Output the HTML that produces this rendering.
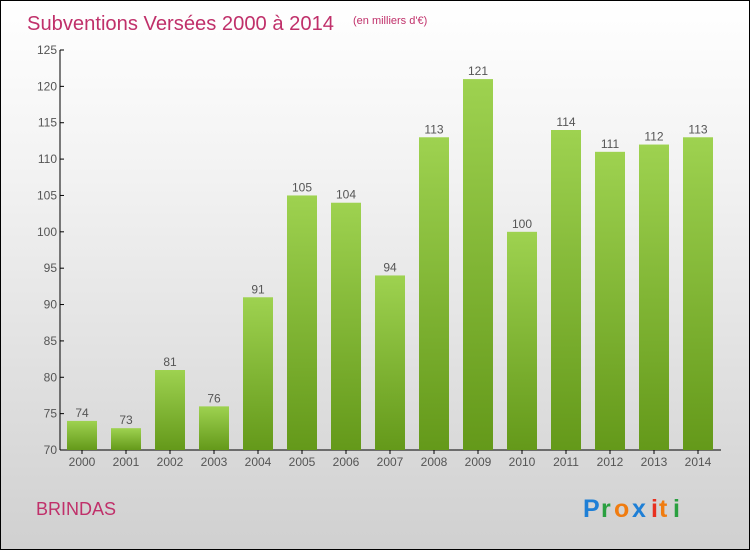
<!DOCTYPE html>
<html><head><meta charset="utf-8"><style>
body{margin:0}
#c{width:748px;height:548px;border:1px solid #000;background:linear-gradient(#ffffff,#f3f3f3 30%,#d0d0d0);position:relative;font-family:"Liberation Sans",sans-serif;overflow:hidden}
</style></head><body>
<div id="c">
<svg width="748" height="548" id="svg">
<defs><linearGradient id="bg" x1="0" y1="0" x2="0" y2="1"><stop offset="0" stop-color="#9ed250"/><stop offset="1" stop-color="#64991a"/></linearGradient></defs>
<text x="26" y="29" font-size="20" fill="#c0306a" textLength="307" lengthAdjust="spacingAndGlyphs">Subventions Versées 2000 à 2014</text>
<text x="352" y="23" font-size="11" fill="#c0306a">(en milliers d'€)</text>
<text x="35" y="514" font-size="18" fill="#c0306a">BRINDAS</text>
<g font-size="25" font-weight="bold">
<text x="582" y="516" fill="#1e7fd6">P</text><text x="600" y="516" fill="#2aa040">r</text><text x="613" y="516" fill="#f07c10">o</text><text x="631" y="516" fill="#1e7fd6">x</text><text x="650" y="516" fill="#e83020">i</text><text x="658" y="516" fill="#f07c10">t</text><text x="672" y="516" fill="#2aa040">i</text></g>
<g id="plot"></g>
</svg>
</div>
<script>
const years=["2000","2001","2002","2003","2004","2005","2006","2007","2008","2009","2010","2011","2012","2013","2014"];
const values=[74,73,81,76,91,105,104,94,113,121,100,114,111,112,113];
const ticks=[70,75,80,85,90,95,100,105,110,115,120,125];
const ns="http://www.w3.org/2000/svg";
const g=document.getElementById('plot');
const y0=449,yTop=49,vmin=70,vmax=125;
const ys=v=>y0-(v-vmin)/(vmax-vmin)*(y0-yTop);
const xs=i=>81+i*44;
function mk(t,a,p){const e=document.createElementNS(ns,t);for(const k in a)e.setAttribute(k,a[k]);(p||g).appendChild(e);return e;}
let ax=mk('line',{x1:59,y1:yTop,x2:59,y2:y0,stroke:'#000'});


let bx=mk('line',{x1:59,y1:y0,x2:720,y2:y0,stroke:'#000'});


ticks.forEach(t=>{const y=ys(t);
 mk('line',{x1:59,y1:y,x2:63,y2:y,stroke:'#000'});
 const tx=mk('text',{x:56,y:y+4,'font-size':12,fill:'#555','text-anchor':'end'});tx.textContent=t;
 
 
});
years.forEach((yr,i)=>{const x=xs(i),v=values[i];
 const r=mk('rect',{x:x-15,y:ys(v),width:30,height:y0-ys(v),fill:'url(#bg)'});
 
 
 const l=mk('text',{x:x,y:ys(v)-4,'font-size':12,fill:'#555','text-anchor':'middle'});l.textContent=v;
 
 
 mk('line',{x1:x,y1:y0,x2:x,y2:y0+4,stroke:'#000'});
 const t=mk('text',{x:x,y:y0+16,'font-size':12,fill:'#555','text-anchor':'middle'});t.textContent=yr;
 
 
});
</script>
</body></html>
